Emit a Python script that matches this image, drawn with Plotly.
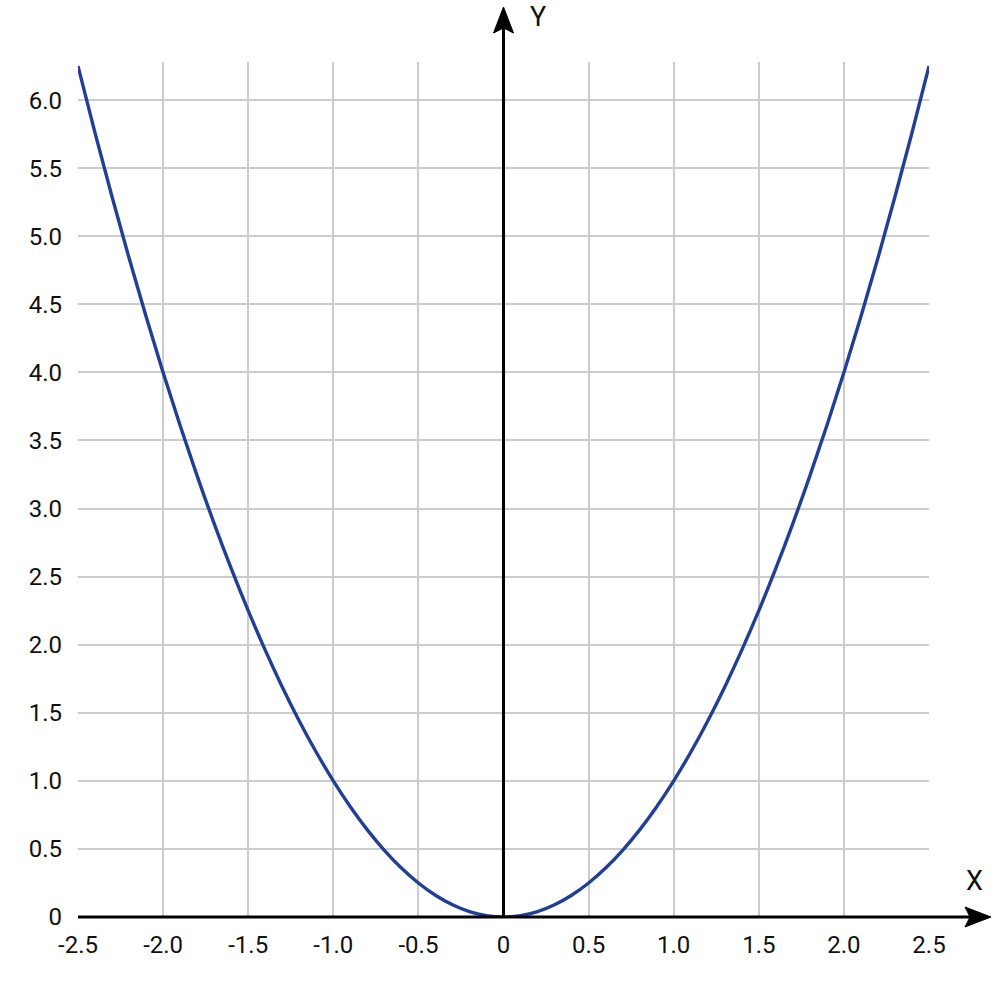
import plotly.graph_objects as go

# data (y = x squared curve)
x_vals = [-2.5, -2.4, -2.3, -2.2, -2.1, -2.0, -1.9, -1.8, -1.7, -1.6, -1.5,
          -1.4, -1.3, -1.2, -1.1, -1.0, -0.9, -0.8, -0.7, -0.6, -0.5,
          -0.4, -0.3, -0.2, -0.1, 0.0, 0.1, 0.2, 0.3, 0.4, 0.5,
          0.6, 0.7, 0.8, 0.9, 1.0, 1.1, 1.2, 1.3, 1.4, 1.5,
          1.6, 1.7, 1.8, 1.9, 2.0, 2.1, 2.2, 2.3, 2.4, 2.5]
y_vals = [6.25, 5.76, 5.29, 4.84, 4.41, 4.0, 3.61, 3.24, 2.89, 2.56, 2.25,
          1.96, 1.69, 1.44, 1.21, 1.0, 0.81, 0.64, 0.49, 0.36, 0.25,
          0.16, 0.09, 0.04, 0.01, 0.0, 0.01, 0.04, 0.09, 0.16, 0.25,
          0.36, 0.49, 0.64, 0.81, 1.0, 1.21, 1.44, 1.69, 1.96, 2.25,
          2.56, 2.89, 3.24, 3.61, 4.0, 4.41, 4.84, 5.29, 5.76, 6.25]

x_tickvals = [-2.5, -2.0, -1.5, -1.0, -0.5, 0, 0.5, 1.0, 1.5, 2.0, 2.5]
x_ticktext = ["-2.5", "-2.0", "-1.5", "-1.0", "-0.5", "0", "0.5", "1.0", "1.5", "2.0", "2.5"]
y_tickvals = [0, 0.5, 1.0, 1.5, 2.0, 2.5, 3.0, 3.5, 4.0, 4.5, 5.0, 5.5, 6.0]
y_ticktext = ["0", "0.5", "1.0", "1.5", "2.0", "2.5", "3.0", "3.5", "4.0", "4.5", "5.0", "5.5", "6.0"]

W, H = 997, 985
L, R, T, B = 78, 68, 62, 68
PW, PH = W - L - R, H - T - B


def px(xp):
    return (xp - L) / PW


def py(yp):
    return (H - B - yp) / PH


FONT = "Roboto"
GRID = "#cccccc"
AXIS = "#000000"
TEXT = "#111111"

fig = go.Figure()
fig.add_trace(go.Scatter(x=x_vals, y=y_vals, mode="lines",
                         line=dict(color="#233f94", width=3.4, shape="spline"),
                         hoverinfo="skip", showlegend=False))

shapes = []
# axis lines
shapes.append(dict(type="line", xref="paper", yref="paper", x0=0, x1=px(975), y0=0, y1=0,
                   line=dict(color=AXIS, width=3), layer="above"))
shapes.append(dict(type="line", xref="paper", yref="paper", x0=0.5, x1=0.5, y0=0, y1=py(25),
                   line=dict(color=AXIS, width=3), layer="above"))
# arrowheads
cx = L + PW / 2
by = H - B
shapes.append(dict(type="path", xref="paper", yref="paper", layer="above",
                   path=f"M {px(cx)},{py(7)} L {px(cx+10)},{py(33)} L {px(cx)},{py(28)} L {px(cx-10)},{py(33)} Z",
                   fillcolor=AXIS, line=dict(color=AXIS, width=1)))
shapes.append(dict(type="path", xref="paper", yref="paper", layer="above",
                   path=f"M {px(991)},{py(by)} L {px(965)},{py(by-10)} L {px(970)},{py(by)} L {px(965)},{py(by+10)} Z",
                   fillcolor=AXIS, line=dict(color=AXIS, width=1)))

fig.update_layout(
    width=W, height=H,
    margin=dict(l=L, r=R, t=T, b=B, autoexpand=False),
    paper_bgcolor="white", plot_bgcolor="white",
    font=dict(family=FONT, color=TEXT, size=24),
    shapes=shapes,
    annotations=[
        dict(text="Y", xref="paper", yref="paper", x=px(538), y=py(17), showarrow=False,
             font=dict(family=FONT, size=27, color=TEXT), xanchor="center", yanchor="middle"),
        dict(text="X", xref="paper", yref="paper", x=px(974), y=py(881), showarrow=False,
             font=dict(family=FONT, size=27, color=TEXT), xanchor="center", yanchor="middle"),
    ],
)
fig.update_xaxes(range=[-2.5, 2.5], tickvals=x_tickvals, ticktext=x_ticktext,
                 showgrid=True, gridcolor=GRID, gridwidth=2, zeroline=False,
                 showline=False, ticks="", ticklabelstandoff=11, fixedrange=True)
fig.update_yaxes(range=[0, 6.28], tickvals=y_tickvals, ticktext=y_ticktext,
                 showgrid=True, gridcolor=GRID, gridwidth=2, zeroline=False,
                 showline=False, ticks="", ticklabelstandoff=15, fixedrange=True)

fig.write_html("out.html", config={"displayModeBar": False},
               post_script="document.body.style.margin='0';")
